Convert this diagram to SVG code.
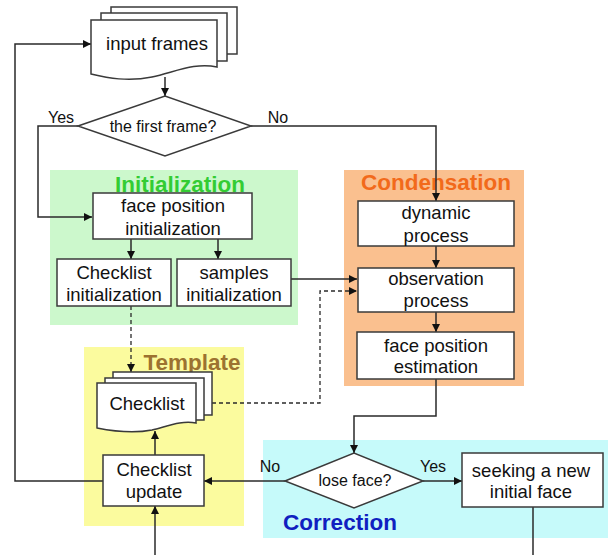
<svg xmlns="http://www.w3.org/2000/svg" width="608" height="555" viewBox="0 0 608 555">
<defs>
<style>
.t{font-family:"Liberation Sans",Arial,sans-serif;font-size:18.5px;fill:#111;text-anchor:middle}
.s{font-family:"Liberation Sans",Arial,sans-serif;font-size:16px;fill:#111;text-anchor:middle}
.h{font-family:"Liberation Sans",Arial,sans-serif;font-size:22.5px;font-weight:bold;text-anchor:middle}
.b{fill:#fff;stroke:#3a3a3a;stroke-width:1.5}
.c{fill:none;stroke:#2a2a2a;stroke-width:1.5}
.d{fill:none;stroke:#2a2a2a;stroke-width:1.3;stroke-dasharray:4,3}
</style>
<marker id="a" viewBox="0 0 10 10" refX="10" refY="5" markerWidth="8" markerHeight="8" markerUnits="userSpaceOnUse" orient="auto">
<path d="M0,0 L10,5 L0,10 Z" fill="#111"/>
</marker>
</defs>
<rect width="608" height="555" fill="#fff"/>

<g id="region-initialization">
<rect x="50" y="170" width="248" height="155" fill="#ccf8cc"/>
<text class="h" x="180" y="192" fill="#33cc33">Initialization</text>
</g>
<g id="region-condensation">
<rect x="344" y="170" width="180" height="216" fill="#fac08f"/>
<text class="h" x="436" y="190" fill="#f26a1b">Condensation</text>
</g>
<g id="region-template">
<rect x="84" y="347" width="160" height="179" fill="#fbfb9e"/>
<text class="h" x="192" y="370" fill="#9c7230">Template</text>
</g>
<g id="region-correction">
<rect x="263" y="440" width="345" height="98" fill="#c6fafa"/>
<text class="h" x="340" y="530" fill="#1020c0">Correction</text>
</g>

<g id="connectors">
<line class="c" x1="165" y1="77" x2="165" y2="96" marker-end="url(#a)"/>
<polyline class="c" points="78,126 38,126 38,217 92,217" marker-end="url(#a)"/>
<polyline class="c" points="251,126 436,126 436,201" marker-end="url(#a)"/>
<line class="c" x1="131" y1="239" x2="131" y2="259" marker-end="url(#a)"/>
<line class="c" x1="218" y1="239" x2="218" y2="259" marker-end="url(#a)"/>
<line class="c" x1="291" y1="279" x2="357" y2="279" marker-end="url(#a)"/>
<line class="c" x1="436" y1="246" x2="436" y2="268" marker-end="url(#a)"/>
<line class="c" x1="436" y1="312" x2="436" y2="332" marker-end="url(#a)"/>
<polyline class="c" points="436,379 436,416 354,416 354,453" marker-end="url(#a)"/>
<line class="c" x1="423" y1="481" x2="462" y2="481" marker-end="url(#a)"/>
<line class="c" x1="285" y1="481" x2="204" y2="481" marker-end="url(#a)"/>
<polyline class="c" points="103,481 15,481 15,44 91,44" marker-end="url(#a)"/>
<line class="c" x1="155" y1="455" x2="155" y2="431" marker-end="url(#a)"/>
<line class="c" x1="155" y1="555" x2="155" y2="506" marker-end="url(#a)"/>
<line class="c" x1="533" y1="507" x2="533" y2="555"/>
<line class="d" x1="131" y1="306" x2="131" y2="372" marker-end="url(#a)"/>
<polyline class="d" points="212,403 320,403 320,291 357,291" marker-end="url(#a)"/>
<text class="s" x="61" y="123">Yes</text>
<text class="s" x="278" y="123">No</text>
<text class="s" x="433" y="472">Yes</text>
<text class="s" x="270" y="472">No</text>
</g>

<g id="input-frames">
<rect class="b" x="111" y="7" width="126" height="47"/>
<rect class="b" x="101" y="13" width="126" height="48"/>
<path class="b" d="M91,20 H217 V67 C195,62 175,72 152,77 C128,82 108,78 91,74 Z"/>
<text class="t" x="157" y="50">input frames</text>
</g>

<g id="first-frame">
<polygon class="b" points="78,126 165,96 251,126 165,156"/>
<text class="s" x="163" y="132">the first frame?</text>
</g>

<g id="face-position-init">
<rect class="b" x="93" y="193" width="159" height="46"/>
<text class="t" x="173" y="212">face position</text>
<text class="t" x="173" y="235">initialization</text>
</g>

<g id="checklist-init">
<rect class="b" x="57" y="259" width="114" height="47"/>
<text class="t" x="114" y="279">Checklist</text>
<text class="t" x="114" y="301">initialization</text>
</g>

<g id="samples-init">
<rect class="b" x="177" y="259" width="114" height="47"/>
<text class="t" x="234" y="279">samples</text>
<text class="t" x="234" y="301">initialization</text>
</g>

<g id="dynamic-process">
<rect class="b" x="358" y="201" width="156" height="45"/>
<text class="t" x="436" y="219">dynamic</text>
<text class="t" x="436" y="242">process</text>
</g>

<g id="observation-process">
<rect class="b" x="358" y="268" width="156" height="44"/>
<text class="t" x="436" y="285">observation</text>
<text class="t" x="436" y="307">process</text>
</g>

<g id="face-position-estimation">
<rect class="b" x="357" y="332" width="157" height="47"/>
<text class="t" x="436" y="352">face position</text>
<text class="t" x="436" y="373">estimation</text>
</g>

<g id="checklist">
<rect class="b" x="113" y="372" width="99" height="43"/>
<rect class="b" x="105" y="378" width="99" height="42"/>
<path class="b" d="M97,383 H196 V423 C182,420 168,426 152,430 C132,434 112,431 97,428 Z"/>
<text class="t" x="147" y="410">Checklist</text>
</g>

<g id="checklist-update">
<rect class="b" x="103" y="455" width="101" height="51"/>
<text class="t" x="154" y="476">Checklist</text>
<text class="t" x="154" y="498">update</text>
</g>

<g id="lose-face">
<polygon class="b" points="285,481 354,453 423,481 354,508"/>
<text class="s" x="355" y="486">lose face?</text>
</g>

<g id="seeking-face">
<rect class="b" x="462" y="453" width="141" height="54"/>
<text class="t" x="531" y="477">seeking a new</text>
<text class="t" x="531" y="498">initial face</text>
</g>
</svg>
